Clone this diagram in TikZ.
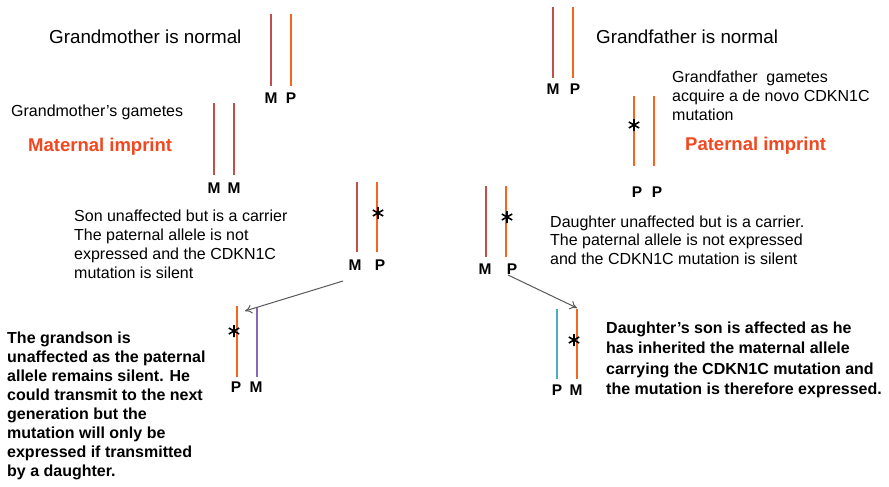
\documentclass[tikz,border=0pt]{standalone}
\usepackage{fontspec}
\setmainfont{Liberation Sans}
\usetikzlibrary{arrows.meta}

\definecolor{matred}{HTML}{C0504D}
\definecolor{patorange}{HTML}{F5651E}
\definecolor{sonpurple}{HTML}{8A67B5}
\definecolor{sonblue}{HTML}{4BACC6}
\definecolor{imprintred}{HTML}{F2471F}
\definecolor{arrowgray}{HTML}{595959}

\tikzset{
  chrom/.style={line width=2.4pt},
  mat/.style={chrom, matred},
  pat/.style={chrom, patorange},
  lbl/.style={font=\fontsize{15.5}{15.5}\selectfont\bfseries, anchor=base, inner sep=0pt},
  title/.style={font=\fontsize{18.8}{22}\selectfont, anchor=base west, inner sep=0pt},
  % multi-line notes are placed by the baseline of their last line
  note/.style={font=\fontsize{16}{18.7}\selectfont, anchor=base west, inner sep=0pt, align=left},
  boldnote/.style={font=\fontsize{16}{19}\selectfont\bfseries, anchor=base west, inner sep=0pt, align=left},
  imprint/.style={font=\fontsize{18.5}{22}\selectfont\bfseries, text=imprintred, anchor=base west, inner sep=0pt},
  descent/.style={draw=arrowgray, line width=1pt, -{To[length=7pt,width=9pt]}},
}
% six-armed mutation mark
\newcommand{\mutmark}[1]{%
  \draw[line width=1.6pt, black] (#1) ++(0,-6) -- ++(0,12)
    (#1) ++(-5.2,-3) -- ++(10.4,6)
    (#1) ++(-5.2,3) -- ++(10.4,-6);}

\begin{document}
\begin{tikzpicture}[x=1pt, y=-1pt]
\useasboundingbox (0,0) rectangle (889,487);
\fill[white] (0,0) rectangle (889,487);

% ---------- grandmother ----------
\node[title] (gmtext) at (49,44) {Grandmother is normal};
\draw[mat] (271,14) -- (271,86);
\draw[pat] (291,14) -- (291,86);
\node[lbl] (gmM) at (271,103) {M};
\node[lbl] (gmP) at (291,103) {P};

\node[note] (gmgam) at (11,116) {Grandmother’s gametes};
\node[imprint] (matimp) at (28,151) {Maternal imprint};
\draw[mat] (214,103) -- (214,175);
\draw[mat] (234,103) -- (234,175);
\node[lbl] (ggM1) at (214,193) {M};
\node[lbl] (ggM2) at (234,193) {M};

% ---------- grandfather ----------
\node[title] (gftext) at (596,44) {Grandfather is normal};
\draw[mat] (553,7) -- (553,78);
\draw[pat] (573,7) -- (573,78);
\node[lbl] (gfM) at (553,94) {M};
\node[lbl] (gfP) at (575,94) {P};

\node[note, font=\fontsize{16}{19}\selectfont] (gfgam) at (672,121) {Grandfather\ \ gametes\\acquire a de novo CDKN1C\\mutation};
\node[imprint] (patimp) at (685,150) {Paternal imprint};
\draw[pat] (634,96) -- (634,166);
\draw[pat] (654,96) -- (654,166);
\mutmark{634,125}
\node[lbl] (fgP1) at (637,197) {P};
\node[lbl] (fgP2) at (657,197) {P};

% ---------- son ----------
\node[note] (sontext) at (74,278) {Son unaffected but is a carrier\\The paternal allele is not\\expressed and the CDKN1C\\mutation is silent};
\draw[mat] (357,182) -- (357,252);
\draw[pat] (377,182) -- (377,252);
\mutmark{378,213}
\node[lbl] (sonM) at (355,270) {M};
\node[lbl] (sonP) at (380,270) {P};

% ---------- daughter ----------
\node[note, font=\fontsize{16}{18.8}\selectfont] (dautext) at (550,264.6) {Daughter unaffected but is a carrier.\\The paternal allele is not expressed\\and the CDKN1C mutation is silent};
\draw[mat] (486,186) -- (486,257);
\draw[pat] (506,186) -- (506,257);
\mutmark{507,217}
\node[lbl] (dauM) at (485,274) {M};
\node[lbl] (dauP) at (512,274) {P};

% ---------- grandson through the son ----------
\draw[pat] (237,306) -- (237,377);
\draw[sonpurple, chrom] (257,307) -- (257,377);
\mutmark{234,331}
\node[lbl] (gsP) at (236,392) {P};
\node[lbl] (gsM) at (256,392) {M};
\coordinate (gstop) at (245,311);
\node[boldnote] (gstext) at (7,476) {The grandson is\\unaffected as the paternal\\allele remains silent. He\\could transmit to the next\\generation but the\\mutation will only be\\expressed if transmitted\\by a daughter.};

% ---------- grandson through the daughter ----------
\draw[sonblue, chrom] (557,309) -- (557,379);
\draw[pat] (577,309) -- (577,379);
\mutmark{574,340}
\node[lbl] (dsP) at (557,395) {P};
\node[lbl] (dsM) at (576,395) {M};
\coordinate (dstop) at (577,308);
\node[boldnote, font=\fontsize{16}{20.5}\selectfont\bfseries] (dstext) at (606,394.5) {Daughter’s son is affected as he\\has inherited the maternal allele\\carrying the CDKN1C mutation and\\the mutation is therefore expressed.};

% ---------- descent arrows ----------
\draw[descent] ([xshift=-12pt,yshift=-11pt]sonM.base) -- (gstop);
\draw[descent] ([xshift=-4pt,yshift=-1pt]dauP.base) -- (dstop);
\end{tikzpicture}
\end{document}
